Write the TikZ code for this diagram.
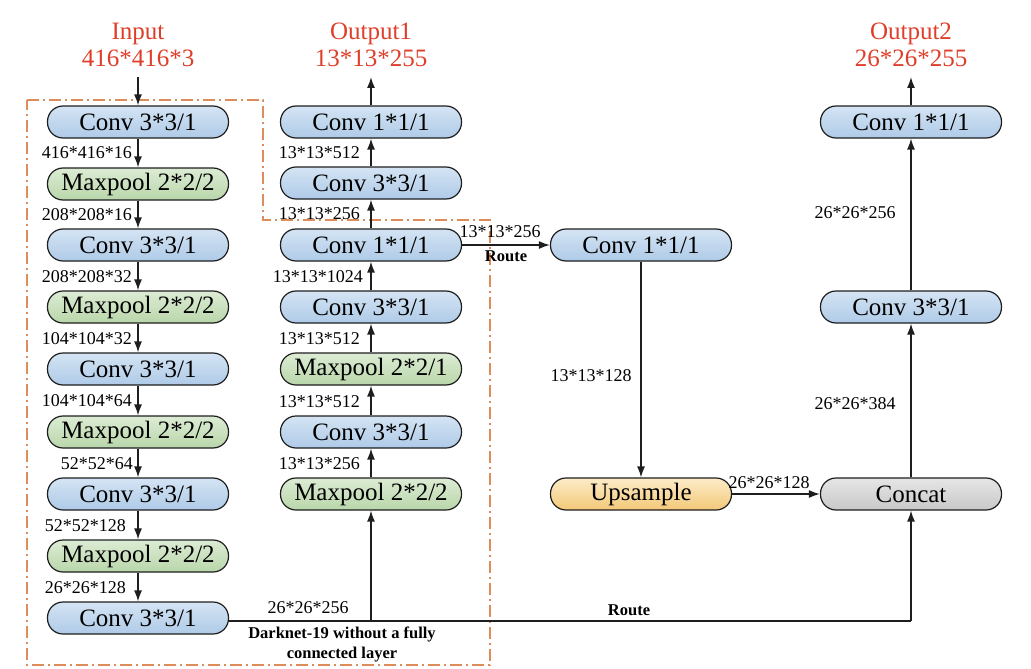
\documentclass[tikz,border=0pt]{standalone}
\usepackage{fontspec}
\setmainfont{Liberation Serif}
\usetikzlibrary{arrows.meta}
\definecolor{titlered}{RGB}{222,62,42}
\definecolor{dashor}{RGB}{222,140,90}
\definecolor{bluetop}{RGB}{212,228,243}
\definecolor{bluebot}{RGB}{175,202,232}
\definecolor{greentop}{RGB}{220,236,212}
\definecolor{greenbot}{RGB}{185,214,170}
\definecolor{oratop}{RGB}{253,236,200}
\definecolor{orabot}{RGB}{243,200,120}
\definecolor{graytop}{RGB}{230,230,230}
\definecolor{graybot}{RGB}{200,200,200}
\definecolor{lineblk}{RGB}{30,30,30}
\tikzset{
  layer/.style={draw=lineblk, line width=1.2pt, rectangle, rounded corners=15.5pt,
    minimum width=181pt, minimum height=32pt, inner sep=0pt,
    font=\fontsize{25}{25}\selectfont},
  conv/.style={layer, top color=bluetop, middle color=bluetop, bottom color=bluebot},
  pool/.style={layer, top color=greentop, middle color=greentop, bottom color=greenbot},
  upsm/.style={layer, top color=oratop, middle color=oratop, bottom color=orabot},
  cat/.style={layer, top color=graytop, middle color=graytop, bottom color=graybot},
  lbl/.style={font=\fontsize{18}{18}\selectfont, inner sep=1pt},
  blbl/.style={font=\fontsize{16.5}{20}\selectfont\bfseries, inner sep=1pt, align=center},
  ttl/.style={text=titlered, font=\fontsize{25}{27}\selectfont, align=center},
  arr/.style={draw=lineblk, line width=1.4pt, -{Latex[length=11pt,width=8pt]}},
  ln/.style={draw=lineblk, line width=1.4pt},
}
\begin{document}
\begin{tikzpicture}[x=1pt,y=-1pt]
\useasboundingbox (0,0) rectangle (1031,669);
% dashed outline
\draw[dashor, line width=1.3pt, dash pattern=on 12pt off 4pt on 2pt off 4pt]
  (27,100) -- (263,100) -- (263,220) -- (490,220) -- (490,665) -- (27,665) -- cycle;
% titles
\node[ttl] (tin) at (138,45) {Input\\416*416*3};
\node[ttl] (to1) at (371,45) {Output1\\13*13*255};
\node[ttl] (to2) at (911,45) {Output2\\26*26*255};
% left column
\node[conv] (l1) at (138,122) {Conv 3*3/1};
\node[pool] (l2) at (138,184) {Maxpool 2*2/2};
\node[conv] (l3) at (138,245) {Conv 3*3/1};
\node[pool] (l4) at (138,307) {Maxpool 2*2/2};
\node[conv] (l5) at (138,369) {Conv 3*3/1};
\node[pool] (l6) at (138,432) {Maxpool 2*2/2};
\node[conv] (l7) at (138,494) {Conv 3*3/1};
\node[pool] (l8) at (138,556) {Maxpool 2*2/2};
\node[conv] (l9) at (138,618) {Conv 3*3/1};
% middle column
\node[pool] (m1) at (371,494) {Maxpool 2*2/2};
\node[conv] (m2) at (371,432) {Conv 3*3/1};
\node[pool] (m3) at (371,369) {Maxpool 2*2/1};
\node[conv] (m4) at (371,307) {Conv 3*3/1};
\node[conv] (m5) at (371,245) {Conv 1*1/1};
\node[conv] (m6) at (371,183) {Conv 3*3/1};
\node[conv] (m7) at (371,122) {Conv 1*1/1};
% right columns
\node[conv] (r1) at (641,245) {Conv 1*1/1};
\node[upsm] (r2) at (641,494) {Upsample};
\node[cat]  (c1) at (911,494) {Concat};
\node[conv] (c2) at (911,307) {Conv 3*3/1};
\node[conv] (c3) at (911,122) {Conv 1*1/1};
\coordinate (inA) at (138,77);
\coordinate (o1A) at (371,77);
\coordinate (o2A) at (911,77);
\coordinate (rt1) at (371,621);
\coordinate (rt2) at (911,621);
% arrows left column
\draw[arr] (inA) -- (l1.north);
\draw[arr] (l1) -- (l2);
\draw[arr] (l2) -- (l3);
\draw[arr] (l3) -- (l4);
\draw[arr] (l4) -- (l5);
\draw[arr] (l5) -- (l6);
\draw[arr] (l6) -- (l7);
\draw[arr] (l7) -- (l8);
\draw[arr] (l8) -- (l9);
% middle
\draw[ln] (l9.east |- rt1) -- (rt2);
\draw[arr] (rt1) -- (m1.south);
\draw[arr] (m1) -- (m2);
\draw[arr] (m2) -- (m3);
\draw[arr] (m3) -- (m4);
\draw[arr] (m4) -- (m5);
\draw[arr] (m5) -- (m6);
\draw[arr] (m6) -- (m7);
\draw[arr] (m7.north) -- (o1A);
% right
\draw[arr] (m5.east) -- (r1.west);
\draw[arr] (r1) -- (r2);
\draw[arr] (r2) -- (c1);
\draw[arr] (rt2) -- (c1.south);
\draw[arr] (c1) -- (c2);
\draw[arr] (c2) -- (c3);
\draw[arr] (c3.north) -- (o2A);
% left labels
\node[lbl, anchor=east] (a1) at (133,153) {416*416*16};
\node[lbl, anchor=east] (a2) at (133,215) {208*208*16};
\node[lbl, anchor=east] (a3) at (133,277) {208*208*32};
\node[lbl, anchor=east] (a4) at (133,339) {104*104*32};
\node[lbl, anchor=east] (a5) at (133,401) {104*104*64};
\node[lbl, anchor=east] (a6) at (134,464) {52*52*64};
\node[lbl, anchor=east] (a7) at (127,526) {52*52*128};
\node[lbl, anchor=east] (a8) at (127,588) {26*26*128};
% middle labels
\node[lbl, anchor=east] (b1) at (361,153) {13*13*512};
\node[lbl, anchor=east] (b2) at (361,214) {13*13*256};
\node[lbl, anchor=east] (b3) at (364,277) {13*13*1024};
\node[lbl, anchor=east] (b4) at (361,339) {13*13*512};
\node[lbl, anchor=east] (b5) at (361,402) {13*13*512};
\node[lbl, anchor=east] (b6) at (361,464) {13*13*256};
% other labels
\node[lbl] (e1) at (500,232) {13*13*256};
\node[blbl] (e2) at (506,256) {Route};
\node[lbl] (e3) at (591,376) {13*13*128};
\node[lbl] (e4) at (769,483) {26*26*128};
\node[lbl] (e5) at (855,213) {26*26*256};
\node[lbl] (e6) at (855,404) {26*26*384};
\node[lbl] (e7) at (308,608) {26*26*256};
\node[blbl] (e8) at (629,610) {Route};
\node[blbl] (e9) at (342,644) {Darknet-19 without a fully\\connected layer};
\end{tikzpicture}
\end{document}
